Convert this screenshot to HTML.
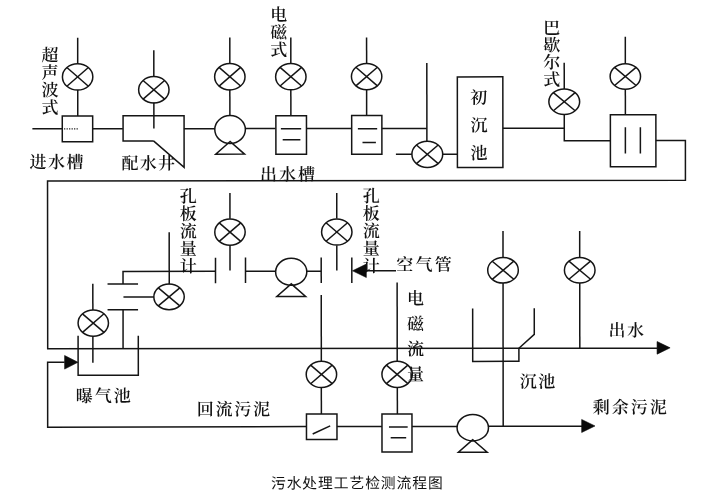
<!DOCTYPE html>
<html lang="zh-CN">
<head>
<meta charset="utf-8">
<title>污水处理工艺检测流程图</title>
<style>
html,body{margin:0;padding:0;background:#fff;}
body{width:708px;height:498px;overflow:hidden;}
svg{display:block;}
svg{filter:grayscale(1);}
.g line,.g polyline,.g rect,.g ellipse,.g polygon{fill:none;stroke:#151515;stroke-width:1.5;stroke-linecap:butt;stroke-linejoin:miter;}
.g polygon.f{fill:#0a0a0a;stroke:#0a0a0a;stroke-width:0.6;}
.g line.dot{stroke-dasharray:1.2 1.3;stroke-width:1.2;}
text.s{font-family:"Liberation Serif","Noto Serif CJK SC",serif;fill:#111;font-weight:600;}
text.h{font-family:"Liberation Sans","Noto Sans CJK SC",sans-serif;fill:#111;font-weight:400;}
</style>
</head>
<body>
<svg width="708" height="498" viewBox="0 0 708 498">
<rect width="708" height="498" fill="#ffffff"/>
<g transform="rotate(-0.057 354 249)">
<g class="g">
<line x1="32.5" y1="128.5" x2="62.5" y2="128.5"/>
<rect x="62.4" y="115.7" width="30.4" height="25.799999999999997"/>
<line class="dot" x1="64.2" y1="128.6" x2="78.5" y2="128.6"/>
<line x1="77.9" y1="37.5" x2="77.9" y2="63.4"/>
<ellipse cx="77.8" cy="76.6" rx="15.2" ry="13.2"/>
<line x1="67.05" y1="67.27" x2="88.55" y2="85.93"/>
<line x1="67.05" y1="85.93" x2="88.55" y2="67.27"/>
<line x1="77.9" y1="89.8" x2="77.9" y2="115.7"/>
<line x1="92.5" y1="128.5" x2="123" y2="128.5"/>
<polyline points="153.6,140.7 123.2,140.7 123.2,115.6 184.2,115.6 184.2,167.2 153.6,140.7"/>
<line x1="154" y1="50" x2="154" y2="76"/>
<ellipse cx="154" cy="89.6" rx="15.2" ry="13.2"/>
<line x1="143.25" y1="80.27" x2="164.75" y2="98.93"/>
<line x1="143.25" y1="98.93" x2="164.75" y2="80.27"/>
<line x1="154" y1="102.4" x2="154" y2="128.4"/>
<line x1="184" y1="128.5" x2="215" y2="128.5"/>
<ellipse cx="230.2" cy="129.4" rx="15.3" ry="13.9"/>
<polygon points="230.2,141.4 215.79999999999998,154.0 244.6,154.0"/>
<line x1="230" y1="37.5" x2="230" y2="63"/>
<ellipse cx="230" cy="76.6" rx="15.2" ry="13.2"/>
<line x1="219.25" y1="67.27" x2="240.75" y2="85.93"/>
<line x1="219.25" y1="85.93" x2="240.75" y2="67.27"/>
<line x1="230" y1="89.4" x2="230" y2="115.4"/>
<line x1="245.3" y1="128.5" x2="275.5" y2="128.5"/>
<rect x="276" y="115.6" width="30.600000000000023" height="38.599999999999994"/>
<line x1="281" y1="128.8" x2="301.3" y2="128.8"/>
<line x1="282.8" y1="139.7" x2="300.5" y2="139.7"/>
<line x1="291" y1="37.5" x2="291" y2="63"/>
<ellipse cx="291" cy="76.6" rx="15.2" ry="13.2"/>
<line x1="280.25" y1="67.27" x2="301.75" y2="85.93"/>
<line x1="280.25" y1="85.93" x2="301.75" y2="67.27"/>
<line x1="291" y1="89.4" x2="291" y2="115.5"/>
<line x1="306.5" y1="128.5" x2="351.8" y2="128.5"/>
<rect x="351.8" y="115.5" width="30.19999999999999" height="38.80000000000001"/>
<line x1="358" y1="128.7" x2="377.3" y2="128.7"/>
<line x1="362.6" y1="142.6" x2="376" y2="142.6"/>
<line x1="366.8" y1="37.5" x2="366.8" y2="63"/>
<ellipse cx="366.8" cy="76.6" rx="15.2" ry="13.2"/>
<line x1="356.05" y1="67.27" x2="377.55" y2="85.93"/>
<line x1="356.05" y1="85.93" x2="377.55" y2="67.27"/>
<line x1="366.8" y1="89.4" x2="366.8" y2="115.5"/>
<line x1="382" y1="128.5" x2="427" y2="128.5"/>
<line x1="427" y1="63" x2="427" y2="141.2"/>
<ellipse cx="427.4" cy="154.4" rx="15.4" ry="13.2"/>
<line x1="416.51" y1="145.07" x2="438.29" y2="163.73"/>
<line x1="416.51" y1="163.73" x2="438.29" y2="145.07"/>
<line x1="396" y1="154.3" x2="412" y2="154.3"/>
<line x1="443" y1="154.3" x2="457.5" y2="154.3"/>
<rect x="457.5" y="77" width="45.5" height="90.69999999999999"/>
<line x1="503" y1="128.5" x2="564.4" y2="128.5"/>
<line x1="564.4" y1="63" x2="564.4" y2="89.2"/>
<ellipse cx="564.4" cy="101.9" rx="15.4" ry="12.8"/>
<line x1="553.51" y1="92.85" x2="575.29" y2="110.95"/>
<line x1="553.51" y1="110.95" x2="575.29" y2="92.85"/>
<polyline points="564.4,114.4 564.4,140.9 610.5,140.9"/>
<rect x="610.5" y="115" width="45.5" height="52"/>
<line x1="625.5" y1="127.5" x2="625.5" y2="153.8"/>
<line x1="640.5" y1="127.5" x2="640.5" y2="153.8"/>
<line x1="625.5" y1="37" x2="625.5" y2="64"/>
<ellipse cx="625.5" cy="76.7" rx="15.2" ry="12.8"/>
<line x1="614.75" y1="67.65" x2="636.25" y2="85.75"/>
<line x1="614.75" y1="85.75" x2="636.25" y2="67.65"/>
<line x1="625.5" y1="89.4" x2="625.5" y2="115"/>
<polyline points="656,140.9 685.5,140.9 685.5,180.6 47.6,180.6 47.6,348.45 657,348.45"/>
<polygon class="f" points="670,348.15 657,341.84999999999997 657,354.45"/>
<polyline points="123,283.8 123,271.2 215.5,271.2"/>
<line x1="107.5" y1="283.8" x2="138" y2="283.8"/>
<line x1="107.5" y1="309.5" x2="138" y2="309.5"/>
<line x1="123" y1="309.5" x2="123" y2="348.45"/>
<line x1="123.4" y1="296.7" x2="153.8" y2="296.7"/>
<ellipse cx="169" cy="296.7" rx="15.2" ry="12.8"/>
<line x1="158.25" y1="287.65" x2="179.75" y2="305.75"/>
<line x1="158.25" y1="305.75" x2="179.75" y2="287.65"/>
<line x1="169.2" y1="232" x2="169.2" y2="284"/>
<polyline points="78,335.5 78,375 138.2,375 138.2,335.5"/>
<line x1="92.8" y1="283.5" x2="92.8" y2="309.8"/>
<ellipse cx="93.2" cy="322.8" rx="15.2" ry="13.1"/>
<line x1="82.45" y1="313.54" x2="103.95" y2="332.06"/>
<line x1="82.45" y1="332.06" x2="103.95" y2="313.54"/>
<line x1="92.8" y1="335.9" x2="92.8" y2="362.6"/>
<line x1="215.5" y1="257.5" x2="215.5" y2="283"/>
<line x1="245.5" y1="257.5" x2="245.5" y2="283"/>
<line x1="230" y1="193" x2="230" y2="218.6"/>
<ellipse cx="230" cy="232" rx="15.2" ry="13.1"/>
<line x1="219.25" y1="222.74" x2="240.75" y2="241.26"/>
<line x1="219.25" y1="241.26" x2="240.75" y2="222.74"/>
<line x1="230" y1="245.4" x2="230" y2="270.5"/>
<line x1="245.5" y1="271.2" x2="275.8" y2="271.2"/>
<ellipse cx="291.2" cy="271.8" rx="15.6" ry="13.5"/>
<polygon points="291.2,283.8 276.8,296.40000000000003 305.59999999999997,296.40000000000003"/>
<line x1="306.8" y1="271.2" x2="321.2" y2="271.2"/>
<line x1="321.2" y1="257.5" x2="321.2" y2="283"/>
<line x1="351.8" y1="257.5" x2="351.8" y2="283"/>
<line x1="336.8" y1="193" x2="336.8" y2="218.6"/>
<ellipse cx="336.8" cy="232" rx="15.2" ry="13.1"/>
<line x1="326.05" y1="222.74" x2="347.55" y2="241.26"/>
<line x1="326.05" y1="241.26" x2="347.55" y2="222.74"/>
<line x1="336.8" y1="245.4" x2="336.8" y2="270.5"/>
<polygon class="f" points="352.5,270.8 366.3,264.1 366.3,277.5"/>
<line x1="366" y1="270.7" x2="396" y2="270.7"/>
<line x1="321.2" y1="295" x2="321.2" y2="361.3"/>
<ellipse cx="321.3" cy="374.4" rx="15.2" ry="13.1"/>
<line x1="310.55" y1="365.14" x2="332.05" y2="383.66"/>
<line x1="310.55" y1="383.66" x2="332.05" y2="365.14"/>
<line x1="321.2" y1="387.7" x2="321.2" y2="414"/>
<line x1="397.1" y1="282.5" x2="397.1" y2="361.3"/>
<ellipse cx="397" cy="374.4" rx="15.2" ry="13.1"/>
<line x1="386.25" y1="365.14" x2="407.75" y2="383.66"/>
<line x1="386.25" y1="383.66" x2="407.75" y2="365.14"/>
<line x1="397.2" y1="387.7" x2="397.2" y2="414"/>
<polyline points="472.6,308.5 472.6,361.5 518.8,361.5 518.8,348.45 534.2,334.6 534.2,308.5"/>
<line x1="503" y1="231.2" x2="503" y2="257.6"/>
<ellipse cx="503" cy="270.4" rx="15.3" ry="12.8"/>
<line x1="492.18" y1="261.35" x2="513.82" y2="279.45"/>
<line x1="492.18" y1="279.45" x2="513.82" y2="261.35"/>
<line x1="503" y1="283.2" x2="503" y2="426.6"/>
<line x1="579.7" y1="231.2" x2="579.7" y2="257.6"/>
<ellipse cx="579.7" cy="270.4" rx="15.3" ry="12.8"/>
<line x1="568.88" y1="261.35" x2="590.52" y2="279.45"/>
<line x1="568.88" y1="279.45" x2="590.52" y2="261.35"/>
<line x1="579.7" y1="283.2" x2="579.7" y2="348.45"/>
<polyline points="64.5,362 47.5,362 47.5,427.0 306.3,426.5"/>
<polygon class="f" points="77.8,362 64.5,355.2 64.5,368.8"/>
<rect x="306.3" y="414" width="30.5" height="25.5"/>
<line x1="312.5" y1="434" x2="330" y2="425.8"/>
<line x1="336.8" y1="426.5" x2="381.8" y2="426.5"/>
<rect x="381.8" y="414" width="30.0" height="38"/>
<line x1="388.8" y1="427" x2="407.5" y2="427"/>
<line x1="390.5" y1="437.8" x2="406" y2="437.8"/>
<line x1="411.8" y1="426.5" x2="457" y2="426.5"/>
<ellipse cx="472.6" cy="427.8" rx="15.7" ry="13.2"/>
<polygon points="472.6,439.8 458.20000000000005,452.40000000000003 487.0,452.40000000000003"/>
<line x1="488.4" y1="426.5" x2="582" y2="426.5"/>
<polygon class="f" points="594.8,426.2 581.5,419.7 581.5,432.7"/>
</g>
<g>
<text class="s" font-size="17" x="41.7 41.7 41.7 41.7" y="60.62 78.12 95.62 113.12">超声波式</text>
<text class="s" font-size="17" x="29.5 48.1 66.7" y="167.62">进水槽</text>
<text class="s" font-size="17" x="121.5 139.8 158.1" y="169.12">配水井</text>
<text class="s" font-size="17" x="270.5 270.5 270.5" y="20.62 38.12 55.62">电磁式</text>
<text class="s" font-size="17" x="260.1 279.1 298.1" y="180.12">出水槽</text>
<text class="s" font-size="17" x="470.5 470.5 470.5" y="103.62 131.32 159.02">初沉池</text>
<text class="s" font-size="17" x="543.5 543.5 543.5 543.5" y="34.12 51.32 68.52 85.72">巴歇尔式</text>
<text class="s" font-size="17" x="179.8 179.8 179.8 179.8 179.8" y="202.12 219.62 237.12 254.62 272.12">孔板流量计</text>
<text class="s" font-size="17" x="362.8 362.8 362.8 362.8 362.8" y="202.12 219.62 237.12 254.62 272.12">孔板流量计</text>
<text class="s" font-size="17" x="396.3 415.5 434.7" y="270.62">空气管</text>
<text class="s" font-size="17" x="406.9 406.9 406.9 406.9" y="304.62 329.82 355.02 380.22">电磁流量</text>
<text class="s" font-size="17" x="608.5 627.0" y="336.62">出水</text>
<text class="s" font-size="17" x="75.5 94.5 113.5" y="401.62">曝气池</text>
<text class="s" font-size="17" x="196.5 215.3 234.1 252.9" y="415.12">回流污泥</text>
<text class="s" font-size="17" x="519.5 538.0" y="387.62">沉池</text>
<text class="s" font-size="17" x="592.5 611.5 630.5 649.5" y="413.62">剩余污泥</text>
<text class="h" font-size="14.8" x="270.7 286.4 302.1 317.8 333.5 349.2 364.9 380.6 396.3 412.0 427.7" y="488.33">污水处理工艺检测流程图</text>
</g>
</g>
</svg>
</body>
</html>
